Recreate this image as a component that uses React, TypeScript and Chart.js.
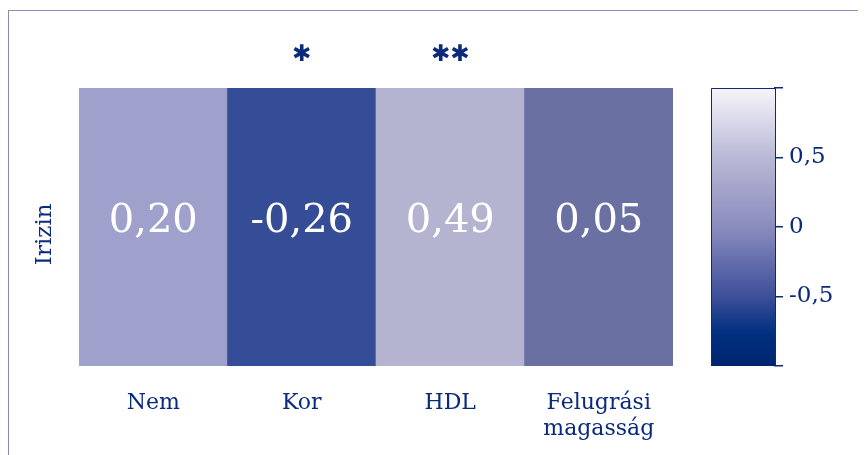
import React, { useEffect, useRef } from "react";
import { Chart, registerables } from "chart.js";

Chart.register(...registerables);

// ---- data ----
const categories: string[][] = [["Nem"], ["Kor"], ["HDL"], ["Felugrási", "magasság"]];
const rowLabel = "Irizin";
const correlations: number[] = [0.2, -0.26, 0.49, 0.05];
const significance: string[] = ["", "*", "**", ""];
const colorbarTicks: number[] = [-1, -0.5, 0, 0.5, 1];
const colorbarLabelled: number[] = [-0.5, 0, 0.5];

// ---- styles ----
const cellColors = ["#a0a0cc", "#354c96", "#b4b4d0", "#6b70a2"];
const NAVY = "#0b2a7c";
const FONT = "'DejaVu Serif', serif";
const gradientStops: [number, string][] = [
  [0, "#f7f5fa"],
  [0.25, "#b9b8d6"],
  [0.5, "#8a8cbd"],
  [0.75, "#3d4f9a"],
  [0.88, "#00307f"],
  [1, "#002470"],
];

const fmt = (v: number) => String(v).replace(".", ",");

const cellTextPlugin = {
  id: "cellText",
  afterDatasetsDraw(chart: any) {
    const ctx = chart.ctx;
    const meta = chart.getDatasetMeta(0);
    const area = chart.chartArea;
    ctx.save();
    meta.data.forEach((bar: any, i: number) => {
      const cy = (area.top + area.bottom) / 2;
      ctx.fillStyle = "#ffffff";
      ctx.font = `40px ${FONT}`;
      ctx.textAlign = "center";
      ctx.textBaseline = "middle";
      ctx.fillText(correlations[i].toFixed(2).replace(".", ","), bar.x, cy - 5);
      if (significance[i]) {
        const stars = significance[i].replace(/\*/g, "\u2731");
        ctx.fillStyle = NAVY;
        ctx.font = `bold 23px 'DejaVu Sans', sans-serif`;
        ctx.fillText(stars, bar.x, area.top - 33);
      }
    });
    ctx.restore();
  },
};

function Heatmap() {
  const ref = useRef<HTMLCanvasElement>(null);
  useEffect(() => {
    const chart = new Chart(ref.current!, {
      type: "bar",
      data: {
        labels: categories as any,
        datasets: [
          {
            data: correlations.map(() => [0, 1]) as any,
            backgroundColor: cellColors,
            barPercentage: 1,
            categoryPercentage: 1,
            borderWidth: 0,
          },
        ],
      },
      options: {
        animation: false,
        responsive: false,
        maintainAspectRatio: false,
        layout: { padding: { left: 21, right: 27, top: 80, bottom: 0 } },
        plugins: { legend: { display: false }, tooltip: { enabled: false } },
        scales: {
          x: {
            type: "category",
            afterFit: (s: any) => {
              s.height = 89;
            },
            grid: { display: false },
            border: { display: false },
            ticks: {
              color: NAVY,
              font: { family: FONT, size: 22 },
              padding: 16,
              maxRotation: 0,
              autoSkip: false,
            },
          },
          y: {
            min: 0,
            max: 1,
            afterFit: (s: any) => {
              s.width = 50;
            },
            grid: { display: false },
            border: { display: false },
            ticks: { display: false },
            title: {
              display: true,
              text: rowLabel + "\u00a0\u00a0",
              color: NAVY,
              font: { family: FONT, size: 23 },
              padding: { top: 2, bottom: 4 },
            },
          },
        },
      },
      plugins: [cellTextPlugin],
    });
    return () => chart.destroy();
  }, []);
  return (
    <canvas
      ref={ref}
      width={692}
      height={447}
      style={{ position: "absolute", left: 0, top: 0, width: 692, height: 447 }}
    />
  );
}

const colorbarBorderPlugin = {
  id: "cbBorder",
  afterDatasetsDraw(chart: any) {
    const { ctx, chartArea: a } = chart;
    ctx.save();
    ctx.strokeStyle = NAVY;
    ctx.lineWidth = 1;
    ctx.beginPath();
    ctx.moveTo(a.left + 0.5, a.bottom);
    ctx.lineTo(a.left + 0.5, a.top + 0.5);
    ctx.lineTo(a.right, a.top + 0.5);
    ctx.stroke();
    ctx.restore();
  },
};

function Colorbar() {
  const ref = useRef<HTMLCanvasElement>(null);
  useEffect(() => {
    const chart = new Chart(ref.current!, {
      type: "bar",
      data: {
        labels: [""],
        datasets: [
          {
            data: [[colorbarTicks[0], colorbarTicks[colorbarTicks.length - 1]]] as any,
            backgroundColor: (c: any) => {
              const a = c.chart.chartArea;
              if (!a) return "#8a8cbd";
              const g = c.chart.ctx.createLinearGradient(0, a.top, 0, a.bottom);
              gradientStops.forEach(([o, col]) => g.addColorStop(o, col));
              return g;
            },
            barPercentage: 1,
            categoryPercentage: 1,
            borderWidth: 0,
          },
        ],
      },
      options: {
        animation: false,
        responsive: false,
        maintainAspectRatio: false,
        layout: { padding: { left: 11, right: 0, top: 80, bottom: 89 } },
        plugins: { legend: { display: false }, tooltip: { enabled: false } },
        scales: {
          x: { display: false },
          y: {
            position: "right",
            min: -1,
            max: 1,
            afterBuildTicks: (s: any) => {
              s.ticks = colorbarTicks.map((v) => ({ value: v }));
            },
            afterFit: (s: any) => {
              s.width = 91;
            },
            grid: {
              display: true,
              drawOnChartArea: false,
              drawTicks: true,
              tickLength: 8,
              color: NAVY,
              lineWidth: 1.5,
            },
            border: { display: true, color: NAVY, width: 2 },
            ticks: {
              color: NAVY,
              font: { family: FONT, size: 23 },
              padding: 6,
              callback: (v: any) => (colorbarLabelled.includes(v) ? fmt(v) : ""),
            },
          },
        },
      },
      plugins: [colorbarBorderPlugin],
    });
    return () => chart.destroy();
  }, []);
  return (
    <canvas
      ref={ref}
      width={166}
      height={447}
      style={{ position: "absolute", left: 692, top: 0, width: 166, height: 447 }}
    />
  );
}

export default function App() {
  return (
    <div style={{ position: "relative", width: 858, height: 447, overflow: "hidden", background: "#fff" }}>
      <div
        style={{
          position: "absolute",
          left: 0,
          top: 2,
          width: 900,
          height: 500,
          border: "1.5px solid #8a8cba",
          boxSizing: "border-box",
        }}
      />
      <Heatmap />
      <Colorbar />
    </div>
  );
}
